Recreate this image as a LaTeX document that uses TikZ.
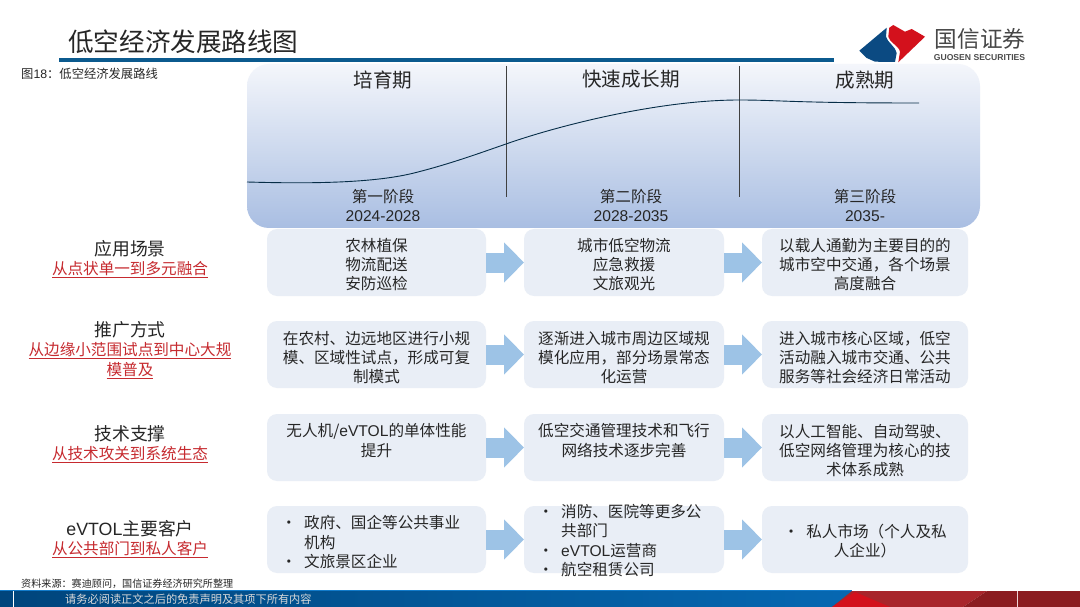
\documentclass[tikz,border=0pt]{standalone}
\usepackage{fontspec}
\setmainfont{Noto Sans CJK SC}
\newfontfamily\arial{Liberation Sans}
\usetikzlibrary{arrows.meta}
\definecolor{gsblue}{HTML}{0B5A8E}
\definecolor{logoblue}{HTML}{0B4A82}
\definecolor{logored}{HTML}{D3111C}
\definecolor{boxfill}{HTML}{E9EEF6}
\definecolor{arrowblue}{HTML}{9DC3E6}
\definecolor{gsred}{HTML}{C62A2F}
\definecolor{bodytext}{HTML}{262626}
\definecolor{paneltop}{HTML}{F4F6FB}
\definecolor{panelbot}{HTML}{A9BEE2}
\definecolor{footdark}{HTML}{00457C}
\definecolor{footmid}{HTML}{004A84}
\definecolor{footbright}{HTML}{0668B2}
\definecolor{footred}{HTML}{A8252B}
\definecolor{footdeep}{HTML}{8B1C20}
\newcommand{\fs}[2]{\fontsize{#1}{#2}\selectfont}
\newcommand{\itm}{\makebox[23pt][l]{•}}
\tikzset{
  stagebox/.style={fill=boxfill,rounded corners=10pt,inner sep=0pt,outer sep=0pt,minimum height=67pt},
  flow/.style={draw=arrowblue,line width=20pt,-{Triangle[length=20pt,width=39pt,fill=arrowblue]}},
  body/.style={text=bodytext,font=\fs{15.6}{19.3},align=center,inner sep=0pt},
  head/.style={text=bodytext,font=\fs{17.8}{22},inner sep=0pt},
  period/.style={text=bodytext,font=\fs{19.6}{24},inner sep=0pt},
  redline/.style={text=gsred,font=\fs{15.6}{19.3},align=center,inner sep=0pt},
}
\begin{document}
\begin{tikzpicture}[x=1pt,y=-1pt]
\useasboundingbox (0,0) rectangle (1080,607);
\fill[white] (0,0) rectangle (1080,607);
% title
\node[anchor=west,inner sep=0pt,text=bodytext,font=\fs{25.6}{30}] (title) at (68,42) {低空经济发展路线图};
\fill[gsblue] (59,58) rectangle (834,62);
\node[anchor=west,inner sep=0pt,text=bodytext,font=\fs{12.3}{14}] (caption) at (21,74) {图{\arial 18}：低空经济发展路线};
% logo
\fill[logoblue] (859.3,50.7)--(886.7,27.7)--(886,36.7) .. controls (887,42) and (896,47) .. (896.7,53)--(895,62)--(875,61.7)--(866.7,58)--cycle;
\fill[logored] (889.3,27.7)--(893.3,25)--(905,31.7)--(911.7,29)--(925,36.7)--(898.3,62.3)--(900,51.7) .. controls (899,46) and (889,42) .. (888.3,36.7)--cycle;
\node[inner sep=0pt,text=black!72,font=\fs{22.6}{26}] (logocn) at (980,39) {国信证券};
\node[inner sep=0pt,text=black!70,font=\fs{8.6}{10}\arial\bfseries] (logoen) at (979.5,58) {GUOSEN SECURITIES};
% stage panel
\shade[rounded corners=22pt,top color=paneltop,bottom color=panelbot] (247,64) rectangle (980,228);
\draw[black!75] (506,66)--(506,197);
\draw[black!75] (739,66)--(739,197);
\draw[black!50!gsblue,line width=.9pt] (247,182) .. controls (300,183.5) and (370,184) .. (414,173) .. controls (450,164) and (480,153) .. (506,144) .. controls (560,125) and (660,100) .. (739,100) .. controls (780,100) and (790,103) .. (919,103);
\node[period] (p1) at (383,80) {培育期};
\node[period] (p2) at (631,79) {快速成长期};
\node[period] (p3) at (865,80) {成熟期};
\node[body] (s1) at (383,205.5) {第一阶段\\{\arial 2024-2028}};
\node[body] (s2) at (631,205.5) {第二阶段\\{\arial 2028-2035}};
\node[body] (s3) at (865,205.5) {第三阶段\\{\arial 2035-}};
% boxes
\foreach \r/\y in {1/262.5,2/354.5,3/447.5,4/539.5}{
  \node[stagebox,minimum width=219pt] (b\r1) at (376.5,\y) {};
  \node[stagebox,minimum width=200pt] (b\r2) at (624,\y) {};
  \node[stagebox,minimum width=206pt] (b\r3) at (865,\y) {};
  \draw[flow] (b\r1)--(b\r2);
  \draw[flow] (b\r2)--(b\r3);
}
% left labels
\node[head] (l1) at (130,249) {应用场景};
\node[redline] (r1) at (130,270) {\underline{从点状单一到多元融合}};
\node[head] (l2) at (130,330) {推广方式};
\node[redline] (r2) at (130,360.5) {\underline{从边缘小范围试点到中心大规}\\\underline{模普及}};
\node[head] (l3) at (130,434) {技术支撑};
\node[redline] (r3) at (130,455) {\underline{从技术攻关到系统生态}};
\node[head] (l4) at (130,529) {{\arial eVTOL}主要客户};
\node[redline] (r4) at (130,550) {\underline{从公共部门到私人客户}};
% box texts
\node[body] (t11) at (376.5,264.5) {农林植保\\物流配送\\安防巡检};
\node[body] (t12) at (624,264.5) {城市低空物流\\应急救援\\文旅观光};
\node[body] (t13) at (865,264.5) {以载人通勤为主要目的的\\城市空中交通，各个场景\\高度融合};
\node[body] (t21) at (376.5,357.5) {在农村、边远地区进行小规\\模、区域性试点，形成可复\\制模式};
\node[body] (t22) at (624,357.5) {逐渐进入城市周边区域规\\模化应用，部分场景常态\\化运营};
\node[body] (t23) at (865,357.5) {进入城市核心区域，低空\\活动融入城市交通、公共\\服务等社会经济日常活动};
\node[body] (t31) at (376.5,440.5) {无人机/{\arial eVTOL}的单体性能\\提升};
\node[body] (t32) at (624,440.5) {低空交通管理技术和飞行\\网络技术逐步完善};
\node[body] (t33) at (865,450.5) {以人工智能、自动驾驶、\\低空网络管理为核心的技\\术体系成熟};
\node[body,align=left,anchor=west] (t41) at (281,542) {\itm 政府、国企等公共事业\\\hspace*{23pt}机构\\\itm 文旅景区企业};
\node[body,align=left,anchor=west] (t42) at (538,540.5) {\itm 消防、医院等更多公\\\hspace*{23pt}共部门\\\itm{\arial eVTOL}运营商\\\itm 航空租赁公司};
\node[body] (t43) at (865,541) {\itm 私人市场（个人及私\\人企业）};
\node[anchor=west,inner sep=0pt,text=bodytext,font=\fs{10.1}{12}] (source) at (21,584) {资料来源：赛迪顾问，国信证券经济研究所整理};
% footer
\shade[left color=footdark,middle color=footmid,right color=footbright] (0,591) rectangle (856,607);
\fill[footred] (832,607)--(852,591)--(987,591)--(963,607)--cycle;
\fill[footdeep] (963,607)--(987,591)--(1080,591)--(1080,607)--cycle;
\fill[logored] (832,607)--(855,592)--(890,607)--cycle;
\draw[white] (13,591)--(13,607);
\draw[white!80!footred] (1017,591)--(1017,607);
\draw[cyan!60!blue] (0,590.5)--(852,590.5);
\node[anchor=west,inner sep=0pt,text=white!85!black,font=\fs{11.2}{13}] (foot) at (65,599) {请务必阅读正文之后的免责声明及其项下所有内容};
\end{tikzpicture}
\end{document}
